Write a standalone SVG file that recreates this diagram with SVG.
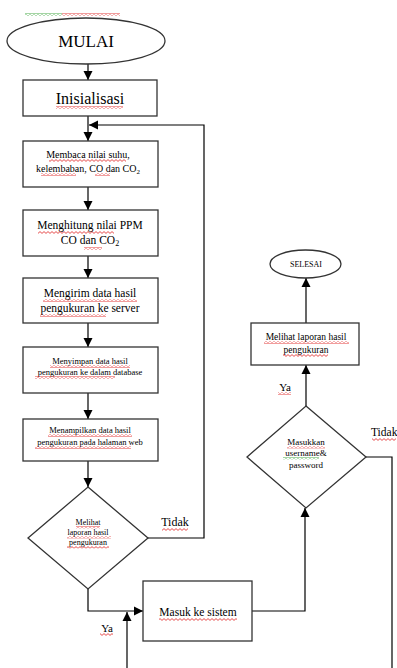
<svg xmlns="http://www.w3.org/2000/svg" width="397" height="668" viewBox="0 0 397 668">
<style>
.b{fill:#fff;stroke:#333;stroke-width:1.3}
.c{fill:none;stroke:#000;stroke-width:1.2}
text{font-family:"Liberation Serif","Times New Roman",serif;fill:#000;text-anchor:middle}
.wr{fill:url(#wr)}
.wg{fill:url(#wg)}
</style>
<defs>
<marker id="ah" markerWidth="10" markerHeight="10" refX="9" refY="5" orient="auto" markerUnits="userSpaceOnUse"><path d="M0,0.5 L9,5 L0,9.5 z" fill="#000"/></marker>
<pattern id="wr" width="4" height="3" patternUnits="userSpaceOnUse"><path d="M0,0.6 L2,2.4 L4,0.6" fill="none" stroke="#e02020" stroke-width="0.8"/></pattern>
<pattern id="wg" width="4" height="3" patternUnits="userSpaceOnUse"><path d="M0,0.6 L2,2.4 L4,0.6" fill="none" stroke="#30a030" stroke-width="0.8"/></pattern>
</defs>
<rect width="397" height="668" fill="#fff"/>
<g id="squiggle-top"><rect class="wg" x="25" y="13" width="37" height="3"/><rect class="wr" x="62" y="13" width="58" height="3"/></g>

<g id="connectors">
<path class="c" d="M88,64 V80" marker-end="url(#ah)"/>
<path class="c" d="M88,116 V141" marker-end="url(#ah)"/>
<path class="c" d="M148,538 H204 V125 H89" marker-end="url(#ah)"/>
<path class="c" d="M88,187 V210" marker-end="url(#ah)"/>
<path class="c" d="M88,256 V278" marker-end="url(#ah)"/>
<path class="c" d="M88,323 V347" marker-end="url(#ah)"/>
<path class="c" d="M88,393 V419" marker-end="url(#ah)"/>
<path class="c" d="M88,461 V487" marker-end="url(#ah)"/>
<path class="c" d="M88,589 V611 H143" marker-end="url(#ah)"/>
<path class="c" d="M127,668 V612" marker-end="url(#ah)"/>
<path class="c" d="M252,611 H305 V508" marker-end="url(#ah)"/>
<path class="c" d="M306,406 V365" marker-end="url(#ah)"/>
<path class="c" d="M306,323 V278" marker-end="url(#ah)"/>
<path class="c" d="M366,457 H392 V668"/>
<text x="175" y="526" font-size="12">Tidak</text><rect class="wr" x="162" y="528" width="26" height="3"/>
<text x="371" y="436" font-size="11.5" style="text-anchor:start">Tidak</text><rect class="wr" x="372" y="438" width="24" height="3"/>
<text x="107" y="632" font-size="11">Ya</text><rect class="wr" x="100" y="633" width="13" height="3"/>
<text x="285" y="391" font-size="11">Ya</text><rect class="wr" x="278" y="392" width="13" height="3"/>
</g>

<g id="mulai"><ellipse class="b" cx="86" cy="41" rx="79" ry="23"/><text x="86" y="47" font-size="17">MULAI</text></g>

<g id="inisialisasi"><rect class="b" x="23" y="80" width="134" height="36"/><text x="90" y="104" font-size="16">Inisialisasi</text><rect class="wr" x="56" y="106" width="67" height="3"/></g>

<g id="membaca"><rect class="b" x="23" y="141" width="135" height="46"/>
<text x="88" y="158" font-size="10">Membaca nilai suhu,</text>
<text x="88" y="172" font-size="10">kelembaban, CO dan CO<tspan font-size="7" dy="2">2</tspan></text>
<rect class="wr" x="49" y="159" width="77" height="3"/><rect class="wr" x="41" y="173" width="35" height="3"/><rect class="wr" x="95" y="173" width="15" height="3"/></g>

<g id="menghitung"><rect class="b" x="23" y="210" width="135" height="46"/>
<text x="90" y="229" font-size="11.5">Menghitung nilai PPM</text>
<text x="90" y="244" font-size="11.5">CO dan CO<tspan font-size="8" dy="2">2</tspan></text>
<rect class="wr" x="38" y="231" width="76" height="3"/><rect class="wr" x="84" y="247" width="18" height="3"/></g>

<g id="mengirim"><rect class="b" x="23" y="278" width="135" height="45"/>
<text x="90" y="297" font-size="11.5">Mengirim data hasil</text>
<text x="90" y="312" font-size="11.5">pengukuran ke server</text>
<rect class="wr" x="43" y="299" width="94" height="3"/><rect class="wr" x="40" y="314" width="66" height="3"/></g>

<g id="menyimpan"><rect class="b" x="23" y="347" width="135" height="46"/>
<text x="90" y="364" font-size="8.5">Menyimpan data hasil</text>
<text x="90" y="375" font-size="8.5">pengukuran ke dalam database</text>
<rect class="wr" x="50" y="365" width="80" height="3"/><rect class="wr" x="35" y="376" width="80" height="3"/></g>

<g id="menampilkan"><rect class="b" x="23" y="419" width="135" height="42"/>
<text x="90" y="433" font-size="8.5">Menampilkan data hasil</text>
<text x="90" y="445" font-size="8.5">pengukuran pada halaman web</text>
<rect class="wr" x="48" y="434" width="84" height="3"/><rect class="wr" x="35" y="446" width="96" height="3"/></g>

<g id="melihat-laporan-d"><path class="b" d="M88,487 L148,538 L88,589 L28,538 Z"/>
<text x="88" y="525" font-size="8">Melihat</text>
<text x="88" y="535" font-size="8">laporan hasil</text>
<text x="88" y="545" font-size="8">pengukuran</text>
<rect class="wr" x="76" y="526" width="24" height="2.5"/><rect class="wr" x="67" y="536" width="44" height="2.5"/><rect class="wr" x="67" y="546" width="42" height="2.5"/></g>

<g id="masuk"><rect class="b" x="143" y="581" width="109" height="60"/>
<text x="198" y="616" font-size="11.5">Masuk ke sistem</text><rect class="wr" x="159" y="618" width="78" height="3"/></g>

<g id="masukkan"><path class="b" d="M306,406 L366,457 L306,508 L247,457 Z"/>
<text x="306" y="445" font-size="9">Masukkan</text>
<text x="306" y="456" font-size="9">username&amp;</text>
<text x="306" y="468" font-size="9">password</text>
<rect class="wr" x="287" y="446" width="38" height="2.5"/><rect class="wg" x="283" y="457" width="36" height="2.5"/></g>

<g id="melihat"><rect class="b" x="251" y="323" width="108" height="42"/>
<text x="306" y="340" font-size="9.5">Melihat laporan hasil</text>
<text x="306" y="353" font-size="9.5">pengukuran</text>
<rect class="wr" x="264" y="341" width="85" height="3"/><rect class="wr" x="283" y="354" width="45" height="3"/></g>

<g id="selesai"><ellipse class="b" cx="305.5" cy="264" rx="35.5" ry="14"/><text x="306" y="267" font-size="8">SELESAI</text></g>
</svg>
